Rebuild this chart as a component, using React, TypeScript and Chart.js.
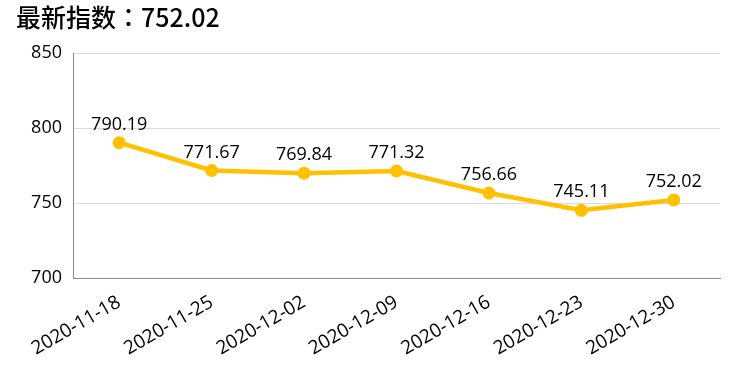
import React, { useEffect, useRef } from "react";
import { Chart, registerables } from "chart.js";

Chart.register(...registerables);

const titleText = "最新指数：752.02";
const categories = ["2020-11-18", "2020-11-25", "2020-12-02", "2020-12-09", "2020-12-16", "2020-12-23", "2020-12-30"];
const values = [790.19, 771.67, 769.84, 771.32, 756.66, 745.11, 752.02];
const yMin = 700;
const yMax = 850;
const yStep = 50;

const FONT = "'Open Sans', 'Noto Sans', sans-serif";

const overlayPlugin = {
  id: "overlay",
  afterDatasetsDraw(chart: any) {
    const ctx = chart.ctx;
    const meta = chart.getDatasetMeta(0);
    ctx.save();
    ctx.fillStyle = "#000";
    ctx.font = `18px ${FONT}`;
    ctx.textAlign = "center";
    ctx.textBaseline = "middle";
    meta.data.forEach((el: any, i: number) => {
      ctx.fillText(values[i].toFixed(2), el.x, el.y - 18);
    });
    ctx.restore();
  },
  afterDraw(chart: any) {
    const ctx = chart.ctx;
    ctx.save();
    ctx.fillStyle = "#000";
    ctx.font = `500 25px 'Noto Sans CJK TC', ${FONT}`;
    ctx.textAlign = "left";
    ctx.textBaseline = "alphabetic";
    ctx.fillText(titleText, 16, 27);
    ctx.restore();
  },
};

export default function App() {
  const ref = useRef<HTMLCanvasElement | null>(null);
  useEffect(() => {
    if (!ref.current) return;
    const chart = new Chart(ref.current, {
      type: "line",
      data: {
        labels: categories,
        datasets: [
          {
            data: values,
            borderColor: "#FFC000",
            backgroundColor: "#FFC000",
            borderWidth: 4.5,
            pointRadius: 6.5,
            pointBackgroundColor: "#FFC000",
            pointBorderWidth: 0,
            tension: 0,
          },
        ],
      },
      options: {
        responsive: false,
        animation: false,
        layout: { padding: { top: 53, right: 24, left: 0, bottom: 0 } },
        plugins: { legend: { display: false }, tooltip: { enabled: false }, title: { display: false } },
        scales: {
          x: {
            offset: true,
            grid: { display: false, drawTicks: false },
            border: { display: true, color: "#888", width: 1 },
            ticks: {
              color: "#000",
              font: { family: FONT, size: 19 },
              minRotation: 30,
              maxRotation: 30,
              padding: 13,
            },
            afterFit(scale: any) {
              scale.height = 104;
            },
          },
          y: {
            min: yMin,
            max: yMax,
            grid: { color: "#d9d9d9", drawTicks: false },
            border: { display: true, color: "#888", width: 1 },
            ticks: {
              stepSize: yStep,
              color: "#000",
              font: { family: FONT, size: 18 },
              padding: 11,
            },
            afterFit(scale: any) {
              scale.width = 73;
            },
          },
        },
      },
      plugins: [overlayPlugin],
    });
    return () => chart.destroy();
  }, []);
  return (
    <div style={{ position: "fixed", left: 0, top: 0, width: 744, height: 382, background: "#fff" }}>
      <canvas ref={ref} width={744} height={382} style={{ width: 744, height: 382 }} />
    </div>
  );
}
